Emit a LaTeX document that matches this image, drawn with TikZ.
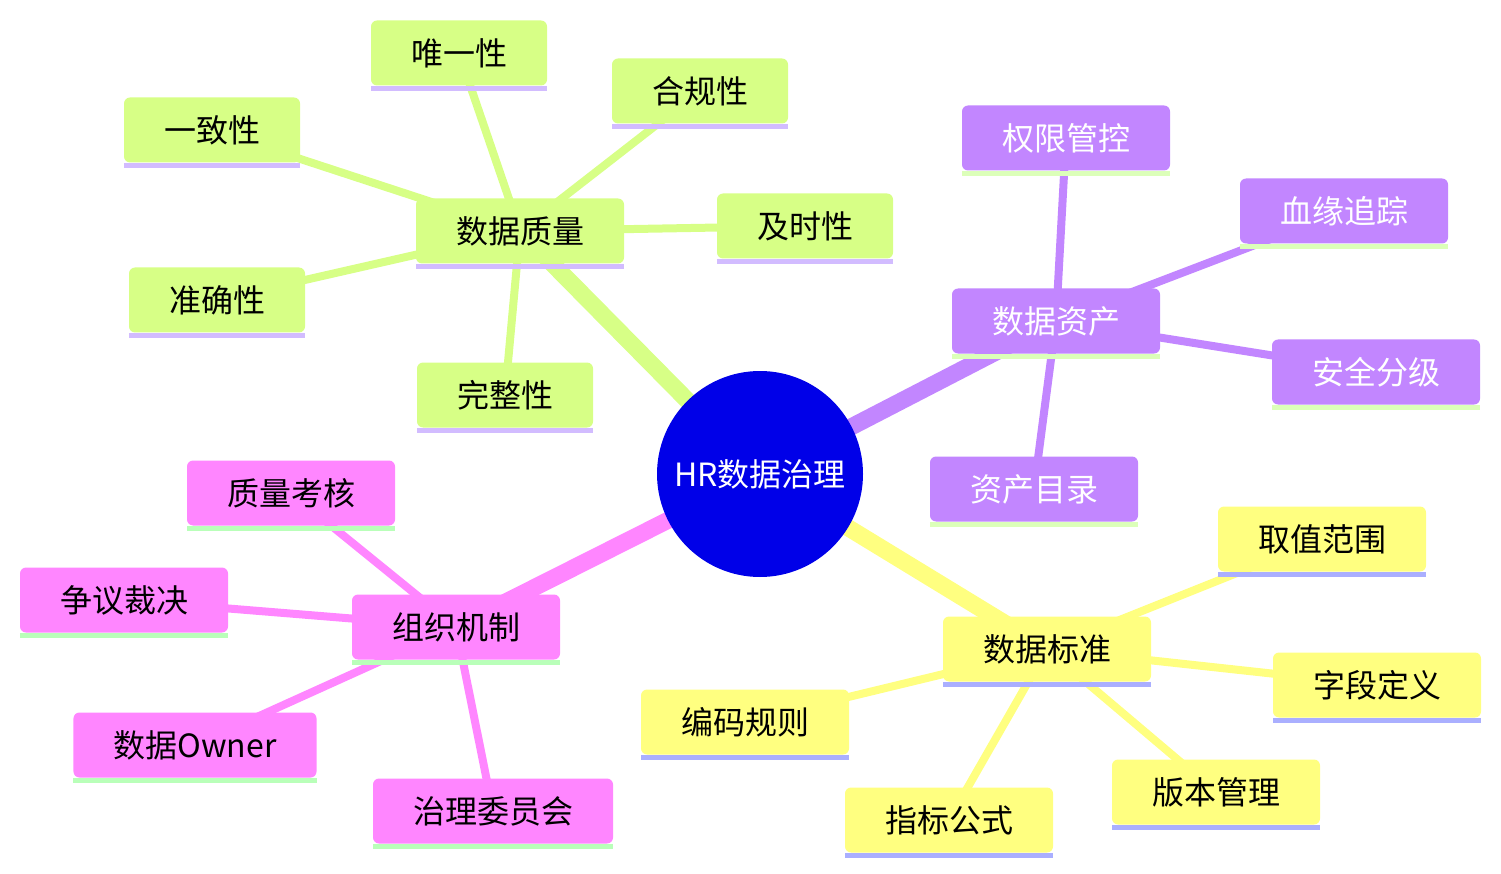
\documentclass[tikz,border=0pt]{standalone}
\usepackage{fontspec}
\newfontfamily\cjk{Noto Sans CJK SC}
\definecolor{rootblue}{RGB}{0,0,232}
\definecolor{gfill}{RGB}{215,255,134}
\definecolor{gline}{RGB}{210,188,255}
\definecolor{pfill}{RGB}{194,134,255}
\definecolor{pline}{RGB}{220,255,185}
\definecolor{kfill}{RGB}{255,134,255}
\definecolor{kline}{RGB}{185,255,185}
\definecolor{yfill}{RGB}{255,255,128}
\definecolor{yline}{RGB}{170,175,255}
\pgfdeclarelayer{bg}
\pgfsetlayers{bg,main}
\begin{document}
\begin{tikzpicture}[x=1pt,y=-1pt,
  box/.style={rectangle, rounded corners=6pt, minimum height=65pt, inner xsep=40pt, inner ysep=0pt,
    font=\cjk\fontsize{32}{32}\selectfont},
  gbox/.style={box, fill=gfill, text=black},
  pbox/.style={box, fill=pfill, text=white},
  kbox/.style={box, fill=kfill, text=black},
  ybox/.style={box, fill=yfill, text=black},
  rootnode/.style={circle, fill=rootblue, minimum size=206pt, inner sep=0pt, text=white,
    font=\cjk\fontsize{32}{32}\selectfont},
  trunk/.style={line width=17pt},
  twig/.style={line width=8pt}]
\useasboundingbox (0,0) rectangle (1501,874);

\node[rootnode] (root) at (760,474) {HR数据治理};

% green branch
\node[gbox] (q)  at (520,231) {数据质量};
\node[gbox] (q1) at (459,53)  {唯一性};
\node[gbox] (q2) at (700,91)  {合规性};
\node[gbox] (q3) at (212,130) {一致性};
\node[gbox] (q4) at (805,226) {及时性};
\node[gbox] (q5) at (217,300) {准确性};
\node[gbox] (q6) at (505,395) {完整性};

% purple branch
\node[pbox] (a)  at (1056,321) {数据资产};
\node[pbox] (a1) at (1066,138) {权限管控};
\node[pbox] (a2) at (1344,211) {血缘追踪};
\node[pbox] (a3) at (1376,372) {安全分级};
\node[pbox] (a4) at (1034,489) {资产目录};

% pink branch
\node[kbox] (o)  at (456,627) {组织机制};
\node[kbox] (o1) at (291,493) {质量考核};
\node[kbox] (o2) at (124,600) {争议裁决};
\node[kbox] (o3) at (195,745) {数据Owner};
\node[kbox] (o4) at (493,811) {治理委员会};

% yellow branch
\node[ybox] (s)  at (1047,649) {数据标准};
\node[ybox] (s1) at (1322,539) {取值范围};
\node[ybox] (s2) at (1377,685) {字段定义};
\node[ybox] (s3) at (745,722)  {编码规则};
\node[ybox] (s4) at (1216,792) {版本管理};
\node[ybox] (s5) at (949,820)  {指标公式};

% underlines
\foreach \n in {q,q1,q2,q3,q4,q5,q6}
  \fill[gline] (\n.south west) rectangle ([yshift=-5pt]\n.south east);
\foreach \n in {a,a1,a2,a3,a4}
  \fill[pline] (\n.south west) rectangle ([yshift=-5pt]\n.south east);
\foreach \n in {o,o1,o2,o3,o4}
  \fill[kline] (\n.south west) rectangle ([yshift=-5pt]\n.south east);
\foreach \n in {s,s1,s2,s3,s4,s5}
  \fill[yline] (\n.south west) rectangle ([yshift=-5pt]\n.south east);

\begin{pgfonlayer}{bg}
  \draw[trunk, gfill] (root.center) -- (q.center);
  \draw[trunk, pfill] (root.center) -- (a.center);
  \draw[trunk, kfill] (root.center) -- (o.center);
  \draw[trunk, yfill] (root.center) -- (s.center);
  \foreach \n in {q1,q2,q3,q4,q5,q6} \draw[twig, gfill] (q.center) -- (\n.center);
  \foreach \n in {a1,a2,a3,a4} \draw[twig, pfill] (a.center) -- (\n.center);
  \foreach \n in {o1,o2,o3,o4} \draw[twig, kfill] (o.center) -- (\n.center);
  \foreach \n in {s1,s2,s3,s4,s5} \draw[twig, yfill] (s.center) -- (\n.center);
\end{pgfonlayer}
\end{tikzpicture}
\end{document}
